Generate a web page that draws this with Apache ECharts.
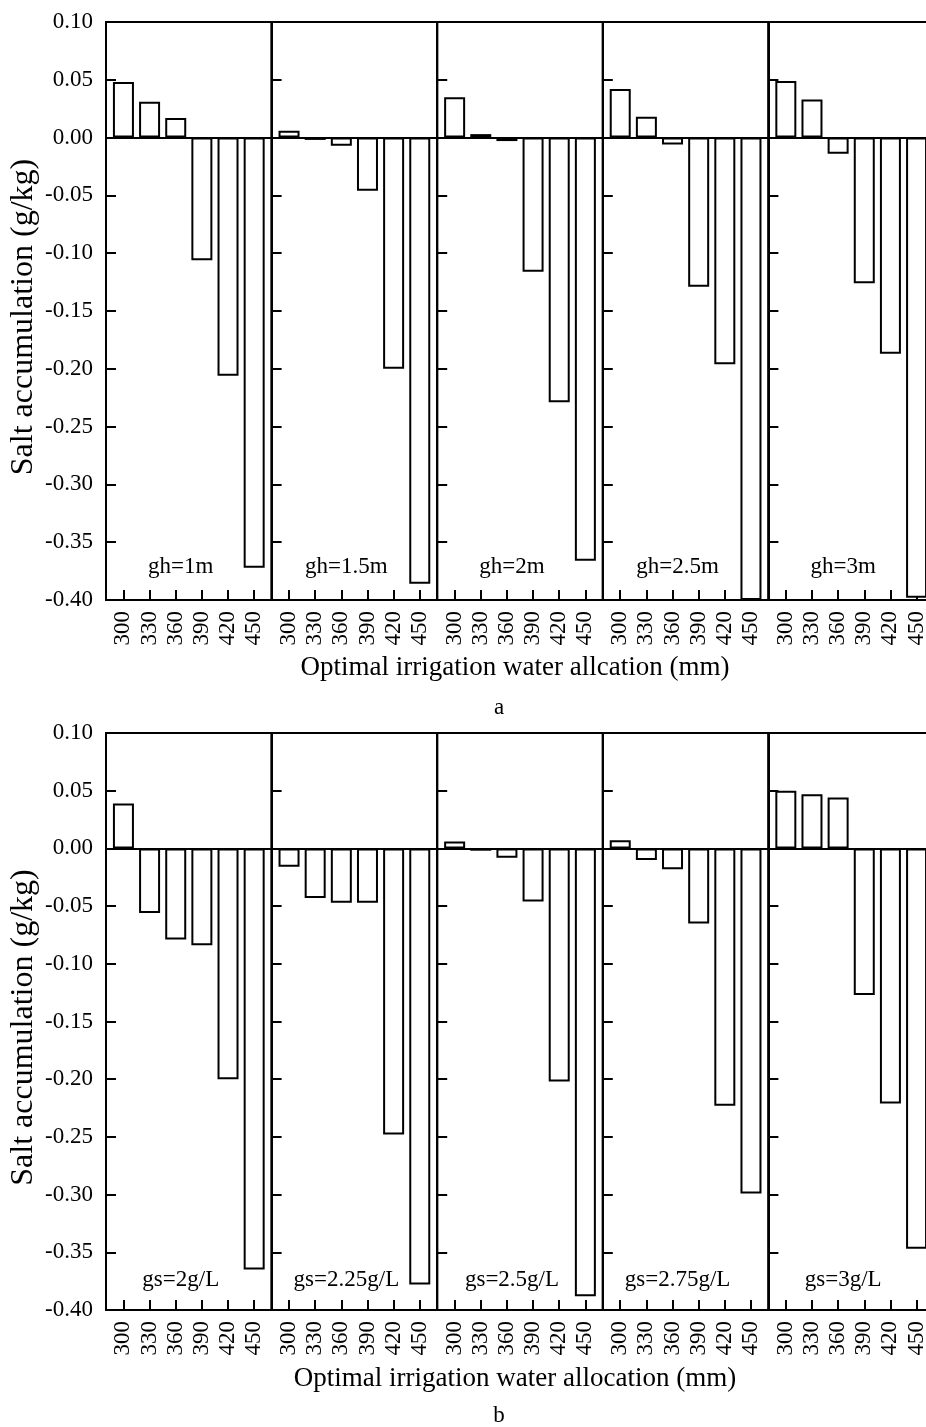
<!DOCTYPE html>
<html>
<head>
<meta charset="utf-8">
<script src="https://cdn.jsdelivr.net/npm/echarts@6/dist/echarts.min.js"></script>
<style>
html,body{margin:0;padding:0;background:#fff;}
#chart{width:926px;height:1427px;}
</style>
</head>
<body>
<div id="chart"></div>
<script>
// ---- data ----
const categories = [300, 330, 360, 390, 420, 450];
const ghLabels = ['gh=1m', 'gh=1.5m', 'gh=2m', 'gh=2.5m', 'gh=3m'];
const gsLabels = ['gs=2g/L', 'gs=2.25g/L', 'gs=2.5g/L', 'gs=2.75g/L', 'gs=3g/L'];

const gh1m  = [0.048, 0.031, 0.017, -0.106, -0.206, -0.372];
const gh15m = [0.006, -0.002, -0.007, -0.046, -0.200, -0.386];
const gh2m  = [0.035, 0.003, -0.003, -0.116, -0.229, -0.366];
const gh25m = [0.042, 0.018, -0.006, -0.129, -0.196, -0.400];
const gh3m  = [0.049, 0.033, -0.014, -0.126, -0.187, -0.398];

const gs2   = [0.039, -0.056, -0.079, -0.084, -0.200, -0.365];
const gs225 = [-0.016, -0.043, -0.047, -0.047, -0.248, -0.378];
const gs25  = [0.006, -0.002, -0.008, -0.046, -0.202, -0.388];
const gs275 = [0.007, -0.010, -0.018, -0.065, -0.223, -0.299];
const gs3   = [0.050, 0.047, 0.044, -0.127, -0.221, -0.347];

const xNameA = 'Optimal irrigation water allcation (mm)';
const xNameB = 'Optimal irrigation water allocation (mm)';
const yName = 'Salt accumulation (g/kg)';

// ---- layout ----
const FONT = 'Liberation Serif';
const left0 = 106, subW = 165.6;
const panels = [
  {top: 22, height: 578, series: [gh1m, gh15m, gh2m, gh25m, gh3m], labels: ghLabels, labelY: 567, xName: xNameA, xNameY: 668, tag: 'a', tagY: 708},
  {top: 733, height: 577, series: [gs2, gs225, gs25, gs275, gs3], labels: gsLabels, labelY: 1280, xName: xNameB, xNameY: 1379, tag: 'b', tagY: 1416}
];

const grid = [], xAxis = [], yAxis = [], series = [], graphic = [];
let g = 0;
panels.forEach((p) => {
  p.series.forEach((arr, i) => {
    const left = left0 + i * subW;
    grid.push({left: left, top: p.top, width: subW, height: p.height, show: true,
      borderColor: '#000', borderWidth: 2, backgroundColor: 'transparent',
      containLabel: false, outerBoundsMode: 'none'});
    xAxis.push({
      gridIndex: g, type: 'value', min: 280, max: 470,
      axisLine: {show: true, onZero: false, lineStyle: {color: '#000', width: 2}},
      axisTick: {show: true, inside: true, length: 10, customValues: categories, lineStyle: {color: '#000', width: 2}},
      axisLabel: {show: true, customValues: categories, rotate: 90, margin: 11,
        fontFamily: FONT, fontSize: 23, color: '#000'},
      splitLine: {show: false}
    });
    yAxis.push({
      gridIndex: g, type: 'value', min: -0.4, max: 0.1, interval: 0.05,
      axisLine: {show: true, lineStyle: {color: '#000', width: 2}},
      axisTick: {show: true, inside: true, length: 10, lineStyle: {color: '#000', width: 2}},
      axisLabel: {show: i === 0, margin: 13, fontFamily: FONT, fontSize: 23, color: '#000',
        formatter: (v) => (Math.abs(v) < 1e-9 ? 0 : v).toFixed(2)},
      splitLine: {show: false},
      name: i === 0 ? yName : '',
      nameLocation: 'middle', nameGap: 66,
      nameTextStyle: {fontFamily: FONT, fontSize: 32, color: '#000', padding: [0, 12, 0, 0]}
    });
    series.push({
      type: 'bar', xAxisIndex: g, yAxisIndex: g,
      data: categories.map((c, k) => [c, arr[k]]),
      barWidth: 21,
      itemStyle: {color: '#fff', borderColor: '#000', borderWidth: 2},
      markLine: {silent: true, symbol: 'none', label: {show: false},
        lineStyle: {color: '#000', width: 2, type: 'solid'}, data: [{yAxis: 0}]}
    });
    graphic.push({type: 'text', x: left + subW / 2 - 8, y: p.labelY,
      style: {text: p.labels[i], fill: '#000', font: '23px "' + FONT + '"', textAlign: 'center', textVerticalAlign: 'middle'}});
    g++;
  });
  graphic.push({type: 'text', x: 515, y: p.xNameY,
    style: {text: p.xName, fill: '#000', font: '27px "' + FONT + '"', textAlign: 'center', textVerticalAlign: 'middle'}});
  graphic.push({type: 'text', x: 499, y: p.tagY,
    style: {text: p.tag, fill: '#000', font: '23px "' + FONT + '"', textAlign: 'center', textVerticalAlign: 'middle'}});
});

const chart = echarts.init(document.getElementById('chart'), null, {renderer: 'canvas'});
chart.setOption({
  animation: false,
  backgroundColor: '#fff',
  grid, xAxis, yAxis, series, graphic
});
</script>
</body>
</html>
